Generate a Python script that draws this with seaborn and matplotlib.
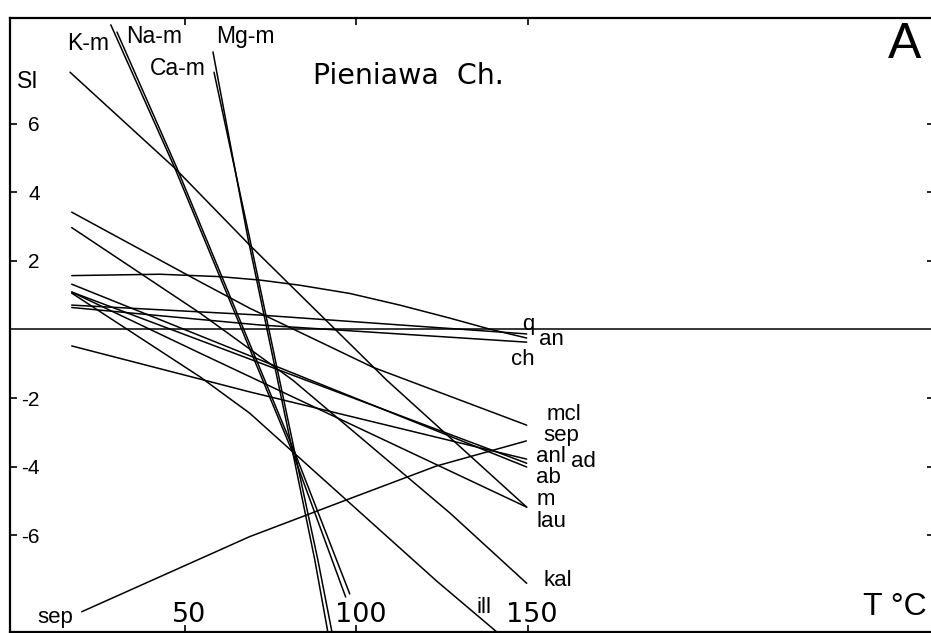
import pandas as pd
import matplotlib.pyplot as plt
import matplotlib.transforms as mtransforms
import seaborn as sns

# saturation index (SI) against temperature (T, deg C)
km_T = [16.5, 47.1, 68.9, 108.9, 149.7]
km_SI = [7.50, 4.70, 2.46, -1.48, -5.18]
nam1_T = [28.4, 47.1, 81.5, 96.9]
nam1_SI = [8.88, 4.70, -3.60, -7.80]
nam2_T = [30.2, 47.7, 82.1, 98.1]
nam2_SI = [8.67, 4.70, -3.60, -7.71]
mgm_T = [58.2, 68.4, 81.5, 87.9, 91.7]
mgm_SI = [8.09, 2.66, -3.60, -6.72, -8.82]
cam_T = [58.5, 68.9, 82.1, 88.8, 92.9]
cam_SI = [7.50, 2.66, -3.60, -6.72, -8.82]
sep_T = [19.9, 68.9, 97.1, 123.4, 149.6]
sep_SI = [-8.23, -6.04, -4.97, -3.98, -3.25]
an_T = [17, 42.7, 60.2, 71.9, 83.5, 98.1, 112.7, 127.3, 138.9, 149.7]
an_SI = [1.57, 1.61, 1.54, 1.44, 1.29, 1.05, 0.71, 0.33, 0.01, -0.25]
q_T = [17, 71.9, 149.7]
q_SI = [0.71, 0.42, -0.13]
ch_T = [17, 71.9, 149.7]
ch_SI = [0.64, 0.13, -0.37]
mcl_T = [17, 54.4, 68.9, 104.8, 149.7]
mcl_SI = [3.42, 1.39, 0.62, -1.10, -2.79]
kal_T = [17, 54.4, 81.5, 127.3, 149.7]
kal_SI = [2.97, 0.48, -1.48, -5.35, -7.40]
lau_T = [17, 54.4, 149.7]
lau_SI = [1.09, -0.69, -5.18]
ab_T = [17, 149.7]
ab_SI = [1.32, -4.01]
ad_T = [17, 149.7]
ad_SI = [1.09, -3.90]
anl_T = [17, 68.9, 149.7]
anl_SI = [-0.48, -1.82, -3.78]
ill_T = [17, 54.4, 68.9, 123.5, 141.0]
ill_SI = [1.06, -1.38, -2.44, -7.34, -8.82]

series = {
    'K-m': (km_T, km_SI), 'Na-m1': (nam1_T, nam1_SI), 'Na-m2': (nam2_T, nam2_SI),
    'Mg-m': (mgm_T, mgm_SI), 'Ca-m': (cam_T, cam_SI), 'sep': (sep_T, sep_SI),
    'an': (an_T, an_SI), 'q': (q_T, q_SI), 'ch': (ch_T, ch_SI), 'mcl': (mcl_T, mcl_SI),
    'kal': (kal_T, kal_SI), 'lau': (lau_T, lau_SI), 'ab': (ab_T, ab_SI),
    'ad': (ad_T, ad_SI), 'anl': (anl_T, anl_SI), 'ill': (ill_T, ill_SI),
}
rows = []
for name, (ts, sis) in series.items():
    for t, s in zip(ts, sis):
        rows.append({'mineral': name, 'T': t, 'SI': s})
df = pd.DataFrame(rows)

# mineral names at the line ends (text, T, SI of baseline)
end_labels = [('q', 148.5, -0.02), ('an', 153.2, -0.45), ('ch', 145.0, -1.04),
              ('mcl', 155.5, -2.64), ('sep', 154.7, -3.24), ('anl', 152.3, -3.86),
              ('ad', 162.5, -4.00), ('ab', 152.3, -4.47), ('m', 152.6, -5.12),
              ('lau', 152.6, -5.76), ('kal', 154.7, -7.48), ('ill', 135.1, -8.27),
              ('sep', 7.1, -8.56)]
top_labels = [('K-m', 15.6, 8.14), ('Na-m', 33.0, 8.34), ('Ca-m', 39.8, 7.42),
              ('Mg-m', 59.2, 8.34)]

sns.set_style('white')
plt.rcParams['font.family'] = ['Liberation Sans', 'DejaVu Sans']
plt.rcParams['text.color'] = 'black'
plt.rcParams['xtick.color'] = 'black'
plt.rcParams['ytick.color'] = 'black'

fig = plt.figure(figsize=(9.31, 6.33), dpi=100)
ax = fig.add_axes([10 / 931, 1 / 633, 924 / 931, 614 / 633])
sns.lineplot(data=df, x='T', y='SI', units='mineral', estimator=None, sort=False,
             color='black', lw=1.1, ax=ax)
ax.axhline(0, color='black', lw=1.1)

ax.set_xlim(-1, 268.5)
ax.set_ylim(-8.82, 9.08)
ax.set_xlabel('')
ax.set_ylabel('')
for s in ax.spines.values():
    s.set_linewidth(1.6)
    s.set_color('black')

ax.set_xticks([50, 100, 150])
ax.set_xticklabels(['50', '100', '150'], fontsize=19.5, family='DejaVu Sans')
ax.set_yticks([-6, -4, -2, 2, 4, 6])
ax.set_yticklabels(['-6', '-4', '-2', '2', '4', '6'], fontsize=15)
ax.tick_params(axis='x', direction='in', length=5, width=1.2, pad=-21.5, top=True, bottom=True,
               colors='black')
ax.tick_params(axis='y', direction='in', length=5, width=1.2, pad=-21.5, left=True, right=True,
               colors='black')
shift = mtransforms.ScaledTranslation(4 / 100, 0, fig.dpi_scale_trans)
for lab in ax.get_xticklabels():
    lab.set_transform(lab.get_transform() + shift)

for txt, t, s in end_labels:
    ax.text(t, s, txt, fontsize=16, ha='left', va='baseline', color='black')
for txt, t, s in top_labels:
    ax.text(t, s, txt, fontsize=16.5, ha='left', va='baseline', color='black')

ax.text(1.0, 7.04, 'SI', fontsize=16.5, ha='left', va='baseline', color='black')
ax.text(87.3, 7.17, 'Pieniawa  Ch.', fontsize=20.5, family='DejaVu Sans',
        ha='left', va='baseline', color='black')
ax.text(255.0, 7.90, 'A', fontsize=36, ha='left', va='baseline', color='black')
ax.text(247.7, -8.33, 'T °C', fontsize=23, ha='left', va='baseline', color='black')

fig.savefig('out.png', dpi=100)
